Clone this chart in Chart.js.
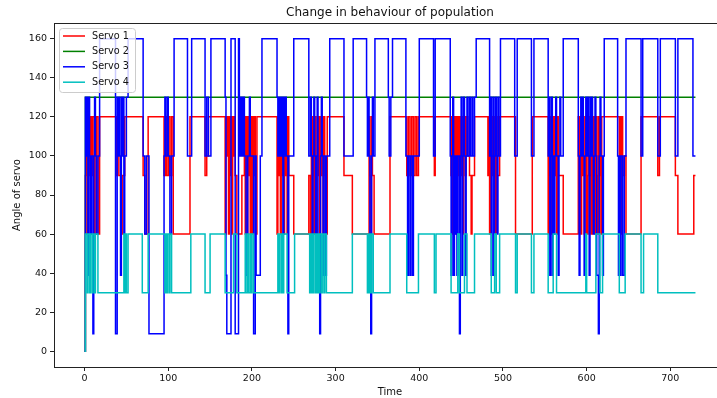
<!DOCTYPE html>
<html>
<head>
<meta charset="utf-8">
<script src="https://cdn.jsdelivr.net/npm/chart.js@4/dist/chart.umd.min.js"></script>
<style>
  html, body { margin: 0; padding: 0; background: #fff; overflow: hidden; }
  #wrap { width: 717px; height: 398px; overflow: hidden; }
</style>
</head>
<body>
<div id="wrap"><canvas id="chart" width="760" height="398" style="width:760px;height:398px"></canvas></div>
<script>
// [time, angle] pairs: each angle is held until the next pair's time
const servo1Steps = [[0,0],[1,90],[2,120],[3,60],[4,120],[5,90],[6,120],[7,60],[8,120],[9,90],[10,120],[12,60],[14,120],[16,60],[18,120],[38,90],[39,120],[41,90],[44,60],[45,90],[48,120],[70,90],[72,60],[76,120],[95,90],[97,120],[98,90],[100,120],[102,90],[104,120],[106,60],[126,120],[144,90],[146,100],[148,120],[168,60],[169,120],[170,100],[171,120],[172,60],[173,120],[174,90],[175,120],[176,60],[177,120],[178,100],[179,120],[180,90],[182,60],[188,90],[191,120],[192,60],[193,120],[194,60],[195,120],[196,90],[197,120],[198,60],[199,120],[200,60],[201,120],[202,90],[203,120],[204,60],[206,120],[230,60],[231,120],[232,90],[233,120],[234,60],[235,120],[236,90],[237,120],[238,60],[239,120],[240,90],[241,120],[242,60],[243,120],[244,90],[250,60],[268,90],[270,60],[271,120],[272,90],[273,120],[274,60],[275,120],[276,90],[277,60],[278,120],[279,90],[280,120],[281,60],[282,120],[283,90],[284,120],[285,60],[286,120],[287,90],[288,60],[290,120],[310,90],[320,60],[340,120],[341,90],[342,60],[343,120],[344,90],[346,60],[365,120],[385,90],[387,120],[389,90],[391,120],[393,90],[395,120],[397,90],[399,120],[418,90],[419,120],[438,90],[439,120],[440,60],[441,120],[442,90],[443,120],[444,60],[445,120],[446,90],[447,120],[448,60],[449,120],[450,90],[451,120],[452,60],[453,120],[455,90],[456,120],[458,100],[460,90],[462,60],[463,90],[466,120],[482,90],[483,120],[484,60],[485,120],[486,90],[487,120],[488,90],[490,120],[491,60],[492,120],[493,90],[496,120],[515,60],[535,120],[554,60],[555,120],[556,90],[557,120],[558,60],[559,120],[560,100],[561,120],[562,90],[563,120],[564,60],[565,120],[566,90],[572,60],[590,120],[591,90],[592,120],[593,60],[594,120],[595,90],[596,120],[597,60],[598,90],[599,120],[600,60],[601,90],[602,120],[603,60],[604,90],[605,120],[606,60],[607,120],[608,90],[609,120],[610,60],[611,120],[612,90],[613,60],[614,120],[615,90],[616,120],[617,60],[618,120],[639,90],[640,120],[641,60],[642,120],[643,90],[645,100],[647,60],[665,120],[685,90],[687,120],[706,90],[709,60],[728,90],[730,90]];

const servo2Steps = [[0,0],[1,130],[730,130]];

const servo3Steps = [[0,0],[1,130],[2,100],[3,130],[4,39],[5,130],[6,100],[7,60],[8,100],[10,9],[11,100],[12,130],[13,100],[14,60],[16,100],[18,160],[37,9],[39,130],[40,100],[41,130],[42,100],[43,39],[44,130],[45,100],[46,130],[47,60],[48,100],[50,130],[52,160],[70,100],[72,60],[74,100],[77,9],[95,100],[96,130],[97,100],[99,130],[100,100],[102,60],[104,100],[107,160],[123,100],[128,160],[144,100],[146,130],[148,100],[151,160],[168,130],[169,39],[170,9],[175,160],[180,9],[184,160],[185,100],[186,130],[187,100],[188,130],[189,100],[190,130],[191,100],[193,39],[195,100],[197,130],[198,100],[202,9],[204,100],[205,39],[210,100],[212,160],[230,130],[231,100],[232,130],[233,100],[234,130],[235,100],[236,130],[237,60],[238,130],[239,100],[240,130],[241,100],[243,9],[244,100],[250,160],[268,100],[270,130],[271,100],[272,39],[273,100],[274,130],[275,100],[276,60],[277,100],[278,130],[279,39],[281,9],[282,100],[283,130],[284,100],[285,39],[286,100],[288,39],[289,100],[293,160],[310,100],[321,160],[337,130],[338,100],[339,130],[340,100],[341,60],[342,9],[343,100],[344,130],[345,100],[347,160],[363,130],[364,100],[366,130],[368,160],[384,100],[386,39],[387,100],[389,39],[390,100],[392,39],[393,100],[400,160],[417,100],[419,160],[437,100],[438,39],[439,100],[440,130],[441,39],[442,100],[443,60],[444,100],[445,39],[446,100],[448,9],[449,100],[450,130],[451,39],[452,100],[453,130],[454,100],[455,39],[456,100],[457,130],[458,100],[460,130],[461,100],[463,130],[464,100],[466,130],[468,160],[484,100],[485,130],[486,39],[487,100],[488,130],[489,39],[490,100],[491,130],[492,100],[493,60],[494,130],[495,100],[497,160],[514,100],[517,160],[534,100],[537,160],[554,100],[555,130],[556,39],[557,100],[558,130],[559,39],[560,100],[561,60],[562,100],[563,130],[564,100],[566,39],[567,100],[568,130],[569,100],[572,160],[590,100],[591,39],[592,100],[593,130],[594,100],[595,130],[596,100],[597,39],[598,100],[599,130],[600,100],[601,130],[602,100],[603,39],[604,130],[605,100],[606,130],[607,100],[608,60],[609,100],[610,130],[611,100],[612,39],[614,9],[615,100],[616,130],[617,100],[619,39],[620,100],[621,160],[637,100],[638,39],[639,100],[640,39],[641,100],[643,39],[645,100],[647,160],[665,100],[667,160],[685,100],[688,160],[706,100],[709,160],[727,100],[730,100]];

const servo4Steps = [[0,0],[1,60],[3,30],[4,60],[6,30],[7,60],[9,30],[10,60],[12,30],[13,60],[16,30],[47,60],[48,30],[49,60],[50,30],[52,60],[69,30],[76,60],[96,30],[97,60],[98,30],[99,60],[101,30],[102,60],[104,30],[127,60],[144,30],[150,60],[168,30],[178,60],[182,30],[192,60],[193,30],[195,60],[196,30],[198,60],[199,30],[200,60],[202,30],[231,60],[232,30],[233,60],[235,30],[236,60],[237,30],[238,60],[242,30],[251,60],[269,30],[270,60],[271,30],[272,60],[273,30],[274,60],[276,30],[277,60],[278,30],[279,60],[280,30],[281,60],[283,30],[284,60],[286,30],[287,60],[289,30],[320,60],[338,30],[339,60],[340,30],[341,60],[342,30],[343,60],[345,30],[365,60],[385,30],[399,60],[418,30],[420,60],[438,30],[446,60],[448,30],[454,60],[457,30],[466,60],[486,30],[490,60],[492,30],[496,60],[515,30],[517,60],[534,30],[537,60],[554,30],[560,60],[564,30],[599,60],[600,30],[611,60],[616,30],[619,60],[639,30],[646,60],[665,30],[668,60],[685,30],[730,30]];

const seriesNames = ['Servo 1', 'Servo 2', 'Servo 3', 'Servo 4'];
const seriesColors = ['#ff0000', '#008000', '#0000ff', '#00bfbf'];
const xTicks = [0, 100, 200, 300, 400, 500, 600, 700];
const yTicks = [0, 20, 40, 60, 80, 100, 120, 140, 160];

Chart.defaults.font.family = 'DejaVu Sans';
Chart.defaults.color = '#111';

function toPoints(steps) {
    return steps.map(([t, v]) => ({ x: t, y: v }));
}

// title, frame and an in-axes legend box
const decorations = {
    id: 'decorations',
    afterDraw(chart) {
        const ctx = chart.ctx;
        const a = chart.chartArea;
        ctx.save();
        ctx.strokeStyle = '#222';
        ctx.lineWidth = 1;
        ctx.strokeRect(Math.round(a.left) + 0.5, Math.round(a.top) + 0.5,
            Math.round(a.right - a.left), Math.round(a.bottom - a.top));

        ctx.fillStyle = '#111';
        ctx.font = '12px "DejaVu Sans"';
        ctx.textAlign = 'center';
        ctx.textBaseline = 'middle';
        ctx.fillText('Change in behaviour of population', (a.left + a.right) / 2, 13);

        // legend
        const bx = a.left + 5, by = a.top + 5, bw = 76, bh = 64;
        ctx.beginPath();
        ctx.roundRect(bx + 0.5, by + 0.5, bw, bh, 3);
        ctx.fillStyle = 'rgba(255,255,255,0.8)';
        ctx.fill();
        ctx.strokeStyle = '#cccccc';
        ctx.stroke();
        ctx.font = '9.7px "DejaVu Sans"';
        ctx.textAlign = 'left';
        seriesNames.forEach((name, i) => {
            const y = by + 8 + i * 15.4;
            ctx.strokeStyle = seriesColors[i];
            ctx.lineWidth = 1.5;
            ctx.beginPath();
            ctx.moveTo(bx + 4, y);
            ctx.lineTo(bx + 26, y);
            ctx.stroke();
            ctx.fillStyle = '#111';
            ctx.fillText(name, bx + 33, y);
        });
        ctx.restore();
    }
};

const allSteps = [servo1Steps, servo2Steps, servo3Steps, servo4Steps];

new Chart(document.getElementById('chart'), {
    type: 'line',
    data: {
        datasets: allSteps.map((steps, i) => ({
            label: seriesNames[i],
            data: toPoints(steps),
            borderColor: seriesColors[i],
            borderWidth: 1.5,
            pointRadius: 0,
            stepped: true,
            fill: false,
            order: 4 - i
        }))
    },
    options: {
        responsive: false,
        animation: false,
        devicePixelRatio: 1,
        layout: { padding: { top: 23, right: 34, bottom: 0, left: 0 } },
        plugins: {
            legend: { display: false },
            title: { display: false },
            tooltip: { enabled: false }
        },
        scales: {
            x: {
                type: 'linear',
                min: -36.5,
                max: 766.5,
                afterBuildTicks: scale => { scale.ticks = xTicks.map(v => ({ value: v })) },
                afterFit: scale => { scale.height = 31 },
                grid: { drawOnChartArea: false, color: '#222', tickLength: 4 },
                border: { display: false },
                ticks: { font: { size: 9.5 }, padding: 2, maxRotation: 0, autoSkip: false },
                title: { display: true, text: 'Time', font: { size: 10 }, padding: { top: 0, bottom: 0 } }
            },
            y: {
                type: 'linear',
                min: -8,
                max: 168,
                afterBuildTicks: scale => { scale.ticks = yTicks.map(v => ({ value: v })) },
                afterFit: scale => { scale.width = 54 },
                grid: { drawOnChartArea: false, color: '#222', tickLength: 4 },
                border: { display: false },
                ticks: { font: { size: 9.5 }, padding: 3, autoSkip: false },
                title: { display: true, text: 'Angle of servo', font: { size: 10 }, padding: { top: 11, bottom: 0 } }
            }
        }
    },
    plugins: [decorations]
});
</script>
</body>
</html>
